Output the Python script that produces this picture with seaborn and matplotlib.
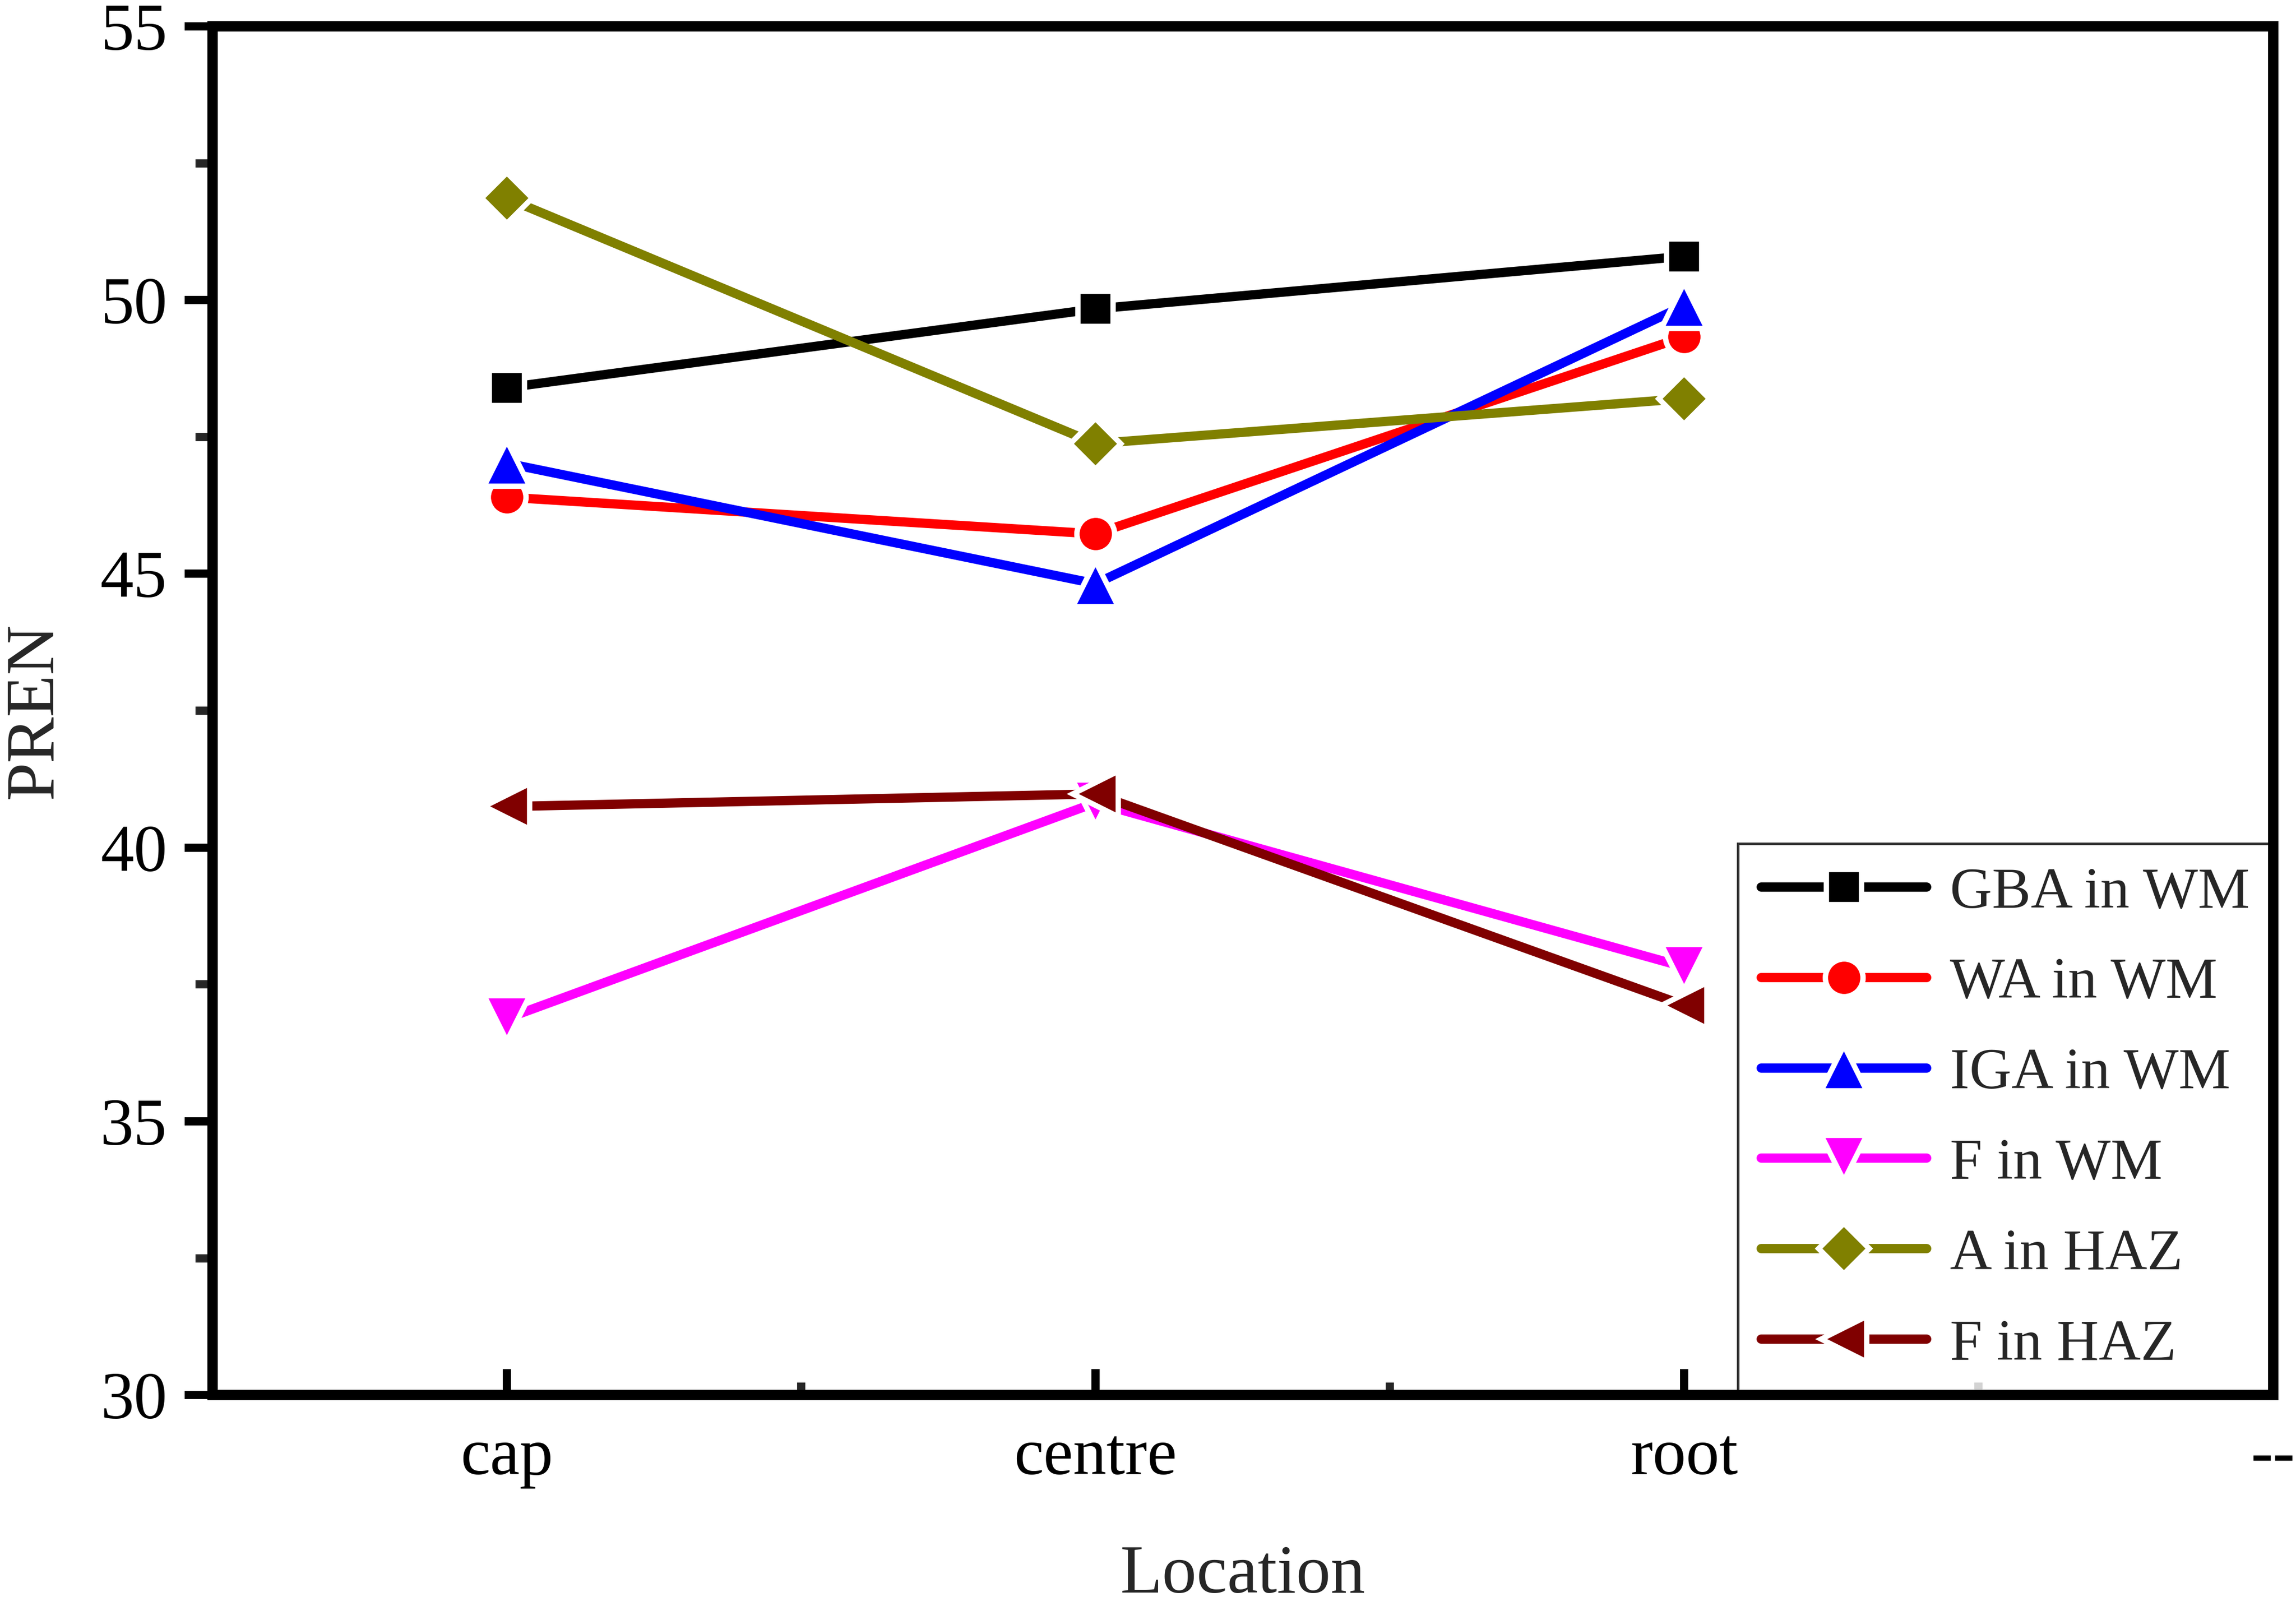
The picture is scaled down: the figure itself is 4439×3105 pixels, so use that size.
import numpy as np
import pandas as pd
import matplotlib
matplotlib.use("Agg")
import matplotlib.pyplot as plt
from matplotlib.ticker import MultipleLocator, FixedLocator
import seaborn as sns

sns.set_style("ticks")
plt.rcParams['font.family'] = ['Liberation Serif', 'DejaVu Serif']

# Data
locations = ["cap", "centre", "root"]
tick_labels = ["cap", "centre", "root", "--"]
series_names = ["GBA in WM", "WA in WM", "IGA in WM", "F in WM", "A in HAZ", "F in HAZ"]
gba_wm = [48.40, 49.84, 50.80]
wa_wm = [46.40, 45.73, 49.33]
iga_wm = [47.02, 44.82, 49.90]
f_wm = [36.88, 40.82, 37.82]
a_haz = [51.86, 47.38, 48.20]
f_haz = [40.75, 40.98, 37.12]

colors = ["#000000", "#FF0000", "#0000FF", "#FF00FF", "#808000", "#800000"]
marker_list = ["s", "o", "^", "v", "D", "<"]
marker_sizes = [16.5, 17.5, 21, 21, 16.5, 21]

values = [gba_wm, wa_wm, iga_wm, f_wm, a_haz, f_haz]
rows = []
for name, vals in zip(series_names, values):
    for i, v in enumerate(vals):
        rows.append({"series": name, "pos": i, "PREN": v})
df = pd.DataFrame(rows)

fig, ax = plt.subplots(figsize=(4439 / 300, 3105 / 300), dpi=300)
fig.subplots_adjust(left=0.0925, right=0.990, top=0.9836, bottom=0.1313)

sns.lineplot(data=df, x="pos", y="PREN", hue="series", style="series",
             hue_order=series_names, style_order=series_names,
             palette=dict(zip(series_names, colors)),
             markers=dict(zip(series_names, marker_list)), dashes=False,
             linewidth=4.3, markersize=16.5, markeredgecolor="white",
             markeredgewidth=2.5, legend=False, ax=ax)
for ln, ms in zip(ax.lines, marker_sizes):
    ln.set_solid_capstyle("round")
    ln.set_markersize(ms)

ax.set_xlim(-0.5, 3)
ax.set_ylim(30, 55)
ax.xaxis.set_major_locator(FixedLocator(range(len(tick_labels))))
ax.set_xticklabels(tick_labels)
ax.xaxis.set_minor_locator(FixedLocator([0.5, 1.5, 2.5]))
ax.yaxis.set_major_locator(MultipleLocator(5))
ax.yaxis.set_minor_locator(MultipleLocator(2.5))

for s in ax.spines.values():
    s.set_linewidth(4.8)
    s.set_color("black")

ax.tick_params(axis="x", which="major", direction="in", length=12, width=3.8,
               labelsize=31, pad=15, colors="black")
ax.tick_params(axis="x", which="minor", direction="in", length=5.7, width=3.8)
ax.tick_params(axis="y", which="major", direction="out", length=13, width=3.8,
               labelsize=31, pad=8, colors="black")
ax.tick_params(axis="y", which="minor", direction="out", length=8, width=3.8)

ax.set_xlabel("Location", fontsize=32, labelpad=26)
ax.set_ylabel("PREN", fontsize=32, labelpad=16)

leg = ax.legend(ax.lines, series_names, loc="lower right", fontsize=27,
                frameon=True, fancybox=False, borderaxespad=0,
                handlelength=2.85, handletextpad=0.4, labelspacing=0.64,
                borderpad=0.4)
leg.get_frame().set_edgecolor("black")
leg.get_frame().set_linewidth(1.2)
leg.set_zorder(2.4)

fig.savefig("out.png", dpi=300)
